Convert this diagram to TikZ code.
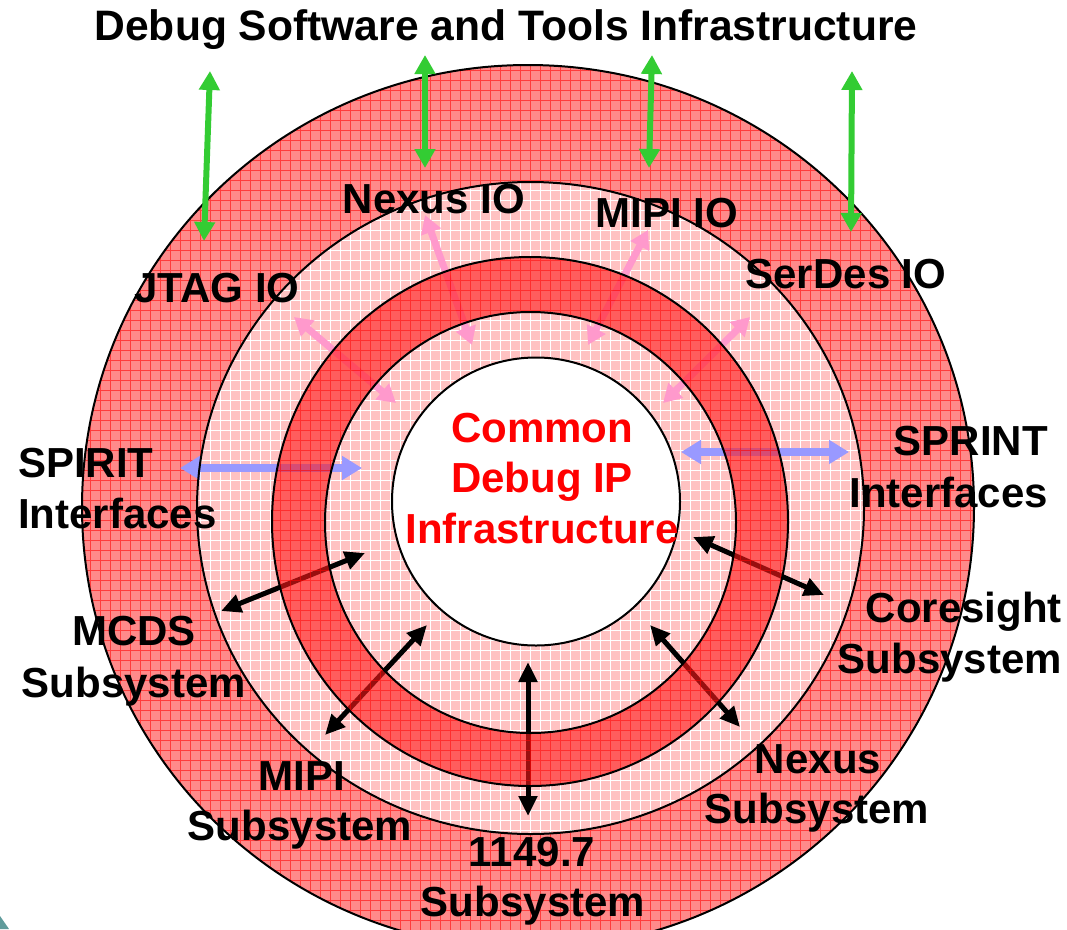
\documentclass[tikz,border=0pt]{standalone}
\usepackage{fontspec}
\setmainfont{Liberation Sans}
\usetikzlibrary{arrows.meta}

\definecolor{ringred}{HTML}{FF8A8A}
\definecolor{ringline}{HTML}{FF3C3C}
\definecolor{ringpink}{HTML}{FFC2C2}
\definecolor{deepred}{HTML}{FF1A1A}
\definecolor{ioGreen}{HTML}{33CC33}
\definecolor{ioPink}{HTML}{FF99CC}
\definecolor{ifBlue}{HTML}{9999FF}
\definecolor{cornerteal}{HTML}{5F9B9B}

\begin{document}
\begin{tikzpicture}[x=1pt,y=-1pt,
  lbl/.style={font=\fontsize{42}{50}\selectfont\bfseries, inner sep=0pt, text=black},
  core/.style={lbl, text=red},
  ringedge/.style={draw=black, line width=2pt},
  greenarrow/.style={draw=ioGreen, line width=6pt,
    {Triangle[length=19pt,width=20pt]}-{Triangle[length=19pt,width=20pt]}},
  pinkarrow/.style={draw=ioPink, line width=7pt,
    {Triangle[length=18pt,width=20pt]}-{Triangle[length=18pt,width=20pt]}},
  bluearrow/.style={draw=ifBlue, line width=8.5pt,
    {Triangle[length=20pt,width=23pt]}-{Triangle[length=20pt,width=23pt]}},
  blackarrow/.style={draw=black, line width=5pt,
    {Triangle[length=20pt,width=18pt]}-{Triangle[length=20pt,width=18pt]}}
]
\useasboundingbox (0,0) rectangle (1067,929);
\fill[white] (0,0) rectangle (1067,929);

% ring outlines (shared paths)
\def\outerring{(528,507) ellipse [x radius=446, y radius=442]}
\def\secondring{(530.5,508) ellipse [x radius=333.5, y radius=326]}
\def\thirdring{(530,521.5) ellipse [x radius=258, y radius=264.5]}
\def\fourthring{(530.5,522.5) ellipse [x radius=205.5, y radius=210.5]}
\def\corering{(536,501.5) circle [radius=144]}

% outer red ring with its grid
\begin{scope}
  \clip \outerring;
  \fill[ringred] (0,0) rectangle (1067,960);
  \draw[ringline, line width=0.7pt] (0,0) grid[xstep=10pt,ystep=10pt] (1067,960);
\end{scope}

% light pink band (whole inner disc) with white grid
\begin{scope}
  \clip \secondring;
  \fill[ringpink] (0,0) rectangle (1067,960);
  \draw[white, line width=0.8pt] (0,0) grid[xstep=10pt,ystep=10pt] (1067,960);
\end{scope}

% white core
\fill[white] \corering;

% connectors crossing the dark band
\coordinate (p1a) at (294,317);  \coordinate (p1b) at (396,403);
\coordinate (p2a) at (425,215);  \coordinate (p2b) at (472,345);
\coordinate (p3a) at (648,230);  \coordinate (p3b) at (588,345);
\coordinate (p4a) at (750,317);  \coordinate (p4b) at (663,403);
\draw[pinkarrow] (p1a) -- (p1b);
\draw[pinkarrow] (p2a) -- (p2b);
\draw[pinkarrow] (p3a) -- (p3b);
\draw[pinkarrow] (p4a) -- (p4b);

\coordinate (b1a) at (180,468);  \coordinate (b1b) at (362,468);
\coordinate (b2a) at (681,452);  \coordinate (b2b) at (849,452);
\draw[bluearrow] (b1a) -- (b1b);
\draw[bluearrow] (b2a) -- (b2b);

\coordinate (k1a) at (221,611);  \coordinate (k1b) at (365,553);
\coordinate (k2a) at (693,537);  \coordinate (k2b) at (824,595);
\coordinate (k3a) at (427,625);  \coordinate (k3b) at (325,735);
\coordinate (k4a) at (650,625);  \coordinate (k4b) at (740,727);
\coordinate (k5a) at (528,662);  \coordinate (k5b) at (528,816);
\draw[blackarrow] (k1a) -- (k1b);
\draw[blackarrow] (k2a) -- (k2b);
\draw[blackarrow] (k3a) -- (k3b);
\draw[blackarrow] (k4a) -- (k4b);
\draw[blackarrow] (k5a) -- (k5b);

% dark red band laid over the connectors
\begin{scope}[even odd rule]
  \fill[deepred, opacity=0.6] \thirdring \fourthring;
  \clip \thirdring \fourthring;
  \draw[red, opacity=0.6, line width=0.8pt] (0,0) grid[xstep=10pt,ystep=10pt] (1067,960);
\end{scope}

% ring edges
\draw[ringedge] \outerring;
\draw[ringedge] \secondring;
\draw[ringedge] \thirdring;
\draw[ringedge] \fourthring;
\draw[ringedge] \corering;

% links up to the tools layer
\coordinate (g1a) at (210,71);  \coordinate (g1b) at (204,241);
\coordinate (g2a) at (425,55);  \coordinate (g2b) at (425,168);
\coordinate (g3a) at (652,55);  \coordinate (g3b) at (649,168);
\coordinate (g4a) at (852,71);  \coordinate (g4b) at (851,232);
\draw[greenarrow] (g1a) -- (g1b);
\draw[greenarrow] (g2a) -- (g2b);
\draw[greenarrow] (g3a) -- (g3b);
\draw[greenarrow] (g4a) -- (g4b);

% labels
\node[lbl, anchor=base, font=\fontsize{42.6}{50}\selectfont\bfseries] (title) at (506,40) {Debug Software and Tools Infrastructure};
\node[lbl, anchor=base] (nexusio) at (434,213) {Nexus IO};
\node[lbl, anchor=base] (mipiio) at (667,227) {MIPI IO};
\node[lbl, anchor=base] (serdesio) at (846,288) {SerDes IO};
\node[lbl, anchor=base] (jtagio) at (217,302) {JTAG IO};

\node[lbl, anchor=base west] (spirit) at (18,477) {SPIRIT};
\node[lbl, anchor=base west] (spiritif) at (18,528) {Interfaces};
\node[lbl, anchor=base east] (sprint) at (1048,455) {SPRINT};
\node[lbl, anchor=base east] (sprintif) at (1048,507) {Interfaces};

\node[lbl, anchor=base east] (coresight) at (1062,622) {Coresight};
\node[lbl, anchor=base east] (coresightsub) at (1062,673) {Subsystem};
\node[lbl, anchor=base] (mcds) at (134,645) {MCDS};
\node[lbl, anchor=base] (mcdssub) at (134,697) {Subsystem};
\node[lbl, anchor=base] (mipi) at (302,790) {MIPI};
\node[lbl, anchor=base] (mipisub) at (300,840) {Subsystem};
\node[lbl, anchor=base] (jtag7) at (532,866) {1149.7};
\node[lbl, anchor=base] (jtag7sub) at (533,916) {Subsystem};
\node[lbl, anchor=base] (nexus) at (818,773) {Nexus};
\node[lbl, anchor=base] (nexussub) at (817,823) {Subsystem};

\node[core, anchor=base] (core1) at (542,442) {Common};
\node[core, anchor=base] (core2) at (542,492) {Debug IP};
\node[core, anchor=base] (core3) at (542,543) {Infrastructure};

% slide corner
\fill[cornerteal] (0,916) -- (9,929) -- (0,929) -- cycle;
\end{tikzpicture}
\end{document}
